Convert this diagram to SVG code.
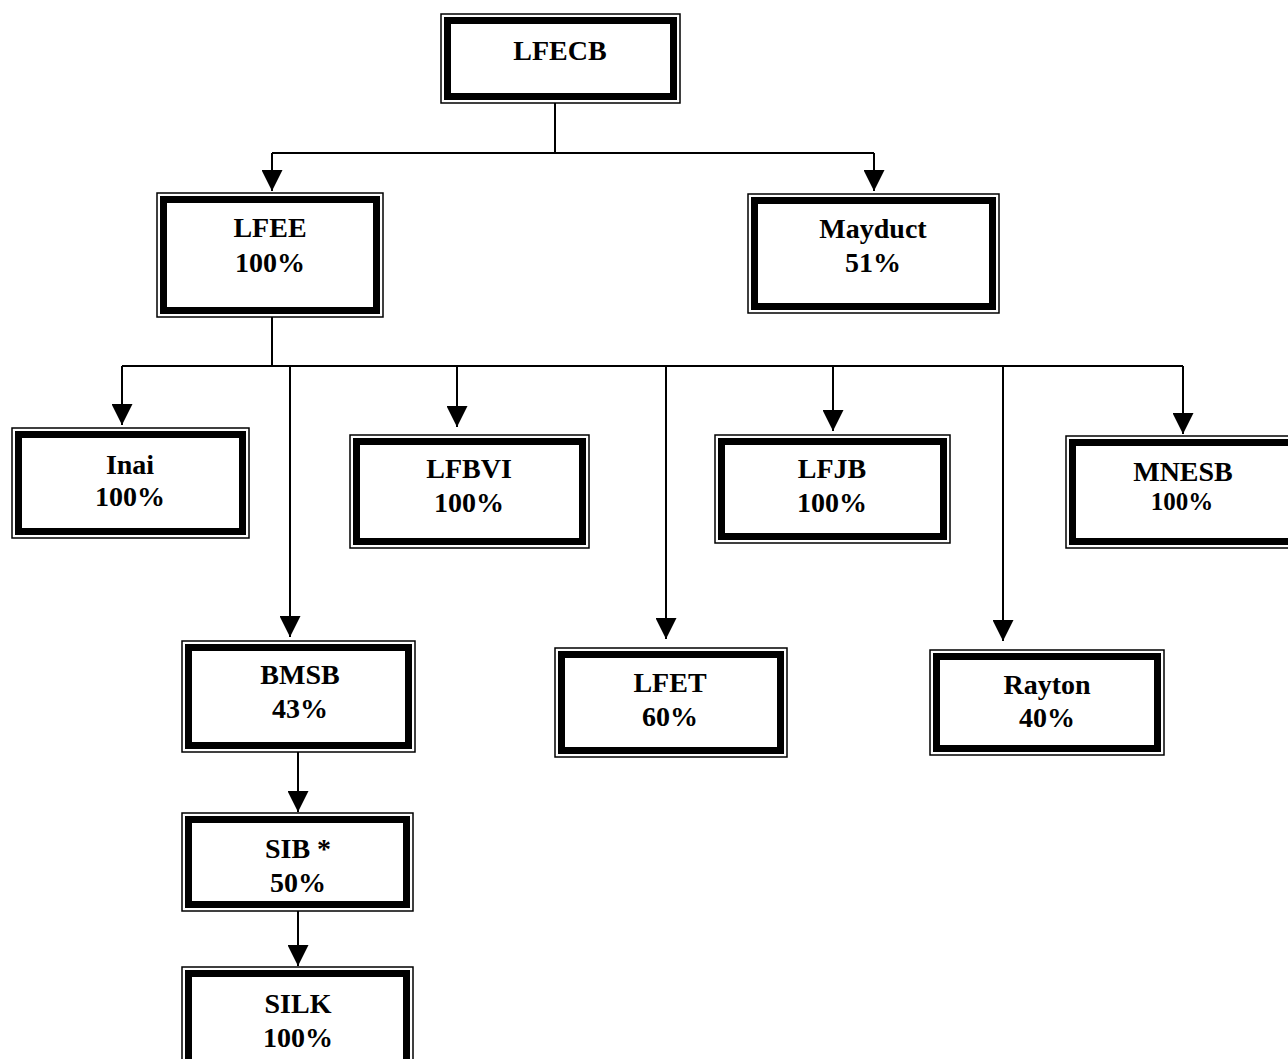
<svg xmlns="http://www.w3.org/2000/svg" width="1288" height="1059" viewBox="0 0 1288 1059">
<style>
.o{fill:#fff;stroke:#000;stroke-width:1.5}
.i{fill:none;stroke:#000;stroke-width:7}
.t{font-family:"Liberation Serif","Times New Roman",serif;font-weight:bold;font-size:28px;text-anchor:middle;fill:#000}
.c{fill:none;stroke:#000;stroke-width:2}
.a{fill:none;stroke:#000;stroke-width:2;marker-end:url(#ah)}
</style>
<defs>
<marker id="ah" viewBox="0 0 20 20" refX="20" refY="10" markerWidth="21" markerHeight="21" markerUnits="userSpaceOnUse" orient="auto">
<path d="M0,0 L20,10 L0,20 z" fill="#000"/>
</marker>
</defs>
<rect width="1288" height="1059" fill="#fff"/>
<g id="connectors">
<path class="c" d="M555,103 V153 M272,153 H874"/>
<path class="a" d="M272,153 V191"/>
<path class="a" d="M874,153 V191"/>
<path class="c" d="M272,317 V366 M122,366 H1183"/>
<path class="a" d="M122,366 V425"/>
<path class="a" d="M457,366 V427"/>
<path class="a" d="M290,366 V637"/>
<path class="a" d="M666,366 V639"/>
<path class="a" d="M833,366 V431"/>
<path class="a" d="M1003,366 V641"/>
<path class="a" d="M1183,366 V434"/>
<path class="a" d="M298,752 V812"/>
<path class="a" d="M298,911 V966"/>
</g>
<g id="LFECB">
<rect class="o" x="441" y="14" width="239" height="89"/>
<rect class="i" x="447.5" y="20.5" width="226" height="76"/>
<text class="t" x="560" y="60">LFECB</text>
</g>
<g id="LFEE">
<rect class="o" x="157" y="193" width="226" height="124"/>
<rect class="i" x="163.5" y="199.5" width="213" height="111"/>
<text class="t" x="270" y="237">LFEE</text>
<text class="t" x="270" y="272">100%</text>
</g>
<g id="Mayduct">
<rect class="o" x="748" y="194" width="251" height="119"/>
<rect class="i" x="754.5" y="200.5" width="238" height="106"/>
<text class="t" x="873" y="238">Mayduct</text>
<text class="t" x="873" y="272">51%</text>
</g>
<g id="Inai">
<rect class="o" x="12" y="428" width="237" height="110"/>
<rect class="i" x="18.5" y="434.5" width="224" height="97"/>
<text class="t" x="130" y="474">Inai</text>
<text class="t" x="130" y="506">100%</text>
</g>
<g id="LFBVI">
<rect class="o" x="350" y="435" width="239" height="113"/>
<rect class="i" x="356.5" y="441.5" width="226" height="100"/>
<text class="t" x="469" y="478">LFBVI</text>
<text class="t" x="469" y="512">100%</text>
</g>
<g id="LFJB">
<rect class="o" x="715" y="435" width="235" height="108"/>
<rect class="i" x="721.5" y="441.5" width="222" height="95"/>
<text class="t" x="832" y="478">LFJB</text>
<text class="t" x="832" y="512">100%</text>
</g>
<g id="MNESB">
<rect class="o" x="1066" y="436" width="240" height="112"/>
<rect class="i" x="1072.5" y="442.5" width="227" height="99"/>
<text class="t" x="1183" y="481">MNESB</text>
<text class="t" x="1182" y="510" style="font-size:25px">100%</text>
</g>
<g id="BMSB">
<rect class="o" x="182" y="641" width="233" height="111"/>
<rect class="i" x="188.5" y="647.5" width="220" height="98"/>
<text class="t" x="300" y="684">BMSB</text>
<text class="t" x="300" y="718">43%</text>
</g>
<g id="LFET">
<rect class="o" x="555" y="648" width="232" height="109"/>
<rect class="i" x="561.5" y="654.5" width="219" height="96"/>
<text class="t" x="670" y="692">LFET</text>
<text class="t" x="670" y="726">60%</text>
</g>
<g id="Rayton">
<rect class="o" x="930" y="650" width="234" height="105"/>
<rect class="i" x="936.5" y="656.5" width="221" height="92"/>
<text class="t" x="1047" y="694">Rayton</text>
<text class="t" x="1047" y="727">40%</text>
</g>
<g id="SIB">
<rect class="o" x="182" y="813" width="231" height="98"/>
<rect class="i" x="188.5" y="819.5" width="218" height="85"/>
<text class="t" x="298" y="858">SIB *</text>
<text class="t" x="298" y="892">50%</text>
</g>
<g id="SILK">
<rect class="o" x="182" y="967" width="231" height="110"/>
<rect class="i" x="188.5" y="973.5" width="218" height="97"/>
<text class="t" x="298" y="1013">SILK</text>
<text class="t" x="298" y="1047">100%</text>
</g>
</svg>
